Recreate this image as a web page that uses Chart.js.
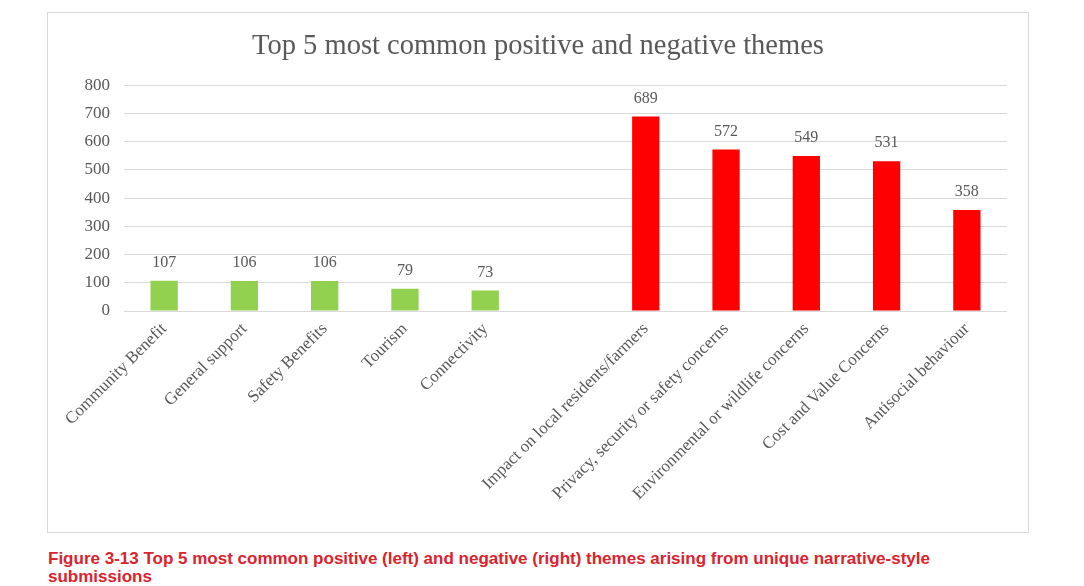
<!DOCTYPE html>
<html>
<head>
<meta charset="utf-8">
<script src="https://cdn.jsdelivr.net/npm/chart.js@4"></script>
<style>
  body { margin: 0; background: #fff; width: 1084px; height: 586px; position: relative; overflow: hidden; }
  #box { position: absolute; left: 47px; top: 12px; width: 980px; height: 519px; border: 1px solid #d9d9d9; }
  #caption { position: absolute; left: 48px; top: 550px; width: 960px; font: bold 17px "Liberation Sans", Arial, sans-serif; line-height: 18px; color: #d9232e; }
</style>
</head>
<body>
<div id="box"><canvas id="myChart" width="980" height="519"></canvas></div>
<div id="caption">Figure 3-13 Top 5 most common positive (left) and negative (right) themes arising from unique narrative-style submissions</div>
<script>
// categories (blank slot separates positive from negative)
var themes = ["Community Benefit", "General support", "Safety Benefits", "Tourism", "Connectivity", "",
  "Impact on local residents/farmers", "Privacy, security or safety concerns",
  "Environmental or wildlife concerns", "Cost and Value Concerns", "Antisocial behaviour"];
var counts = [107, 106, 106, 79, 73, null, 689, 572, 549, 531, 358];
var barColors = ["#92d050", "#92d050", "#92d050", "#92d050", "#92d050", "#ffffff",
  "#ff0000", "#ff0000", "#ff0000", "#ff0000", "#ff0000"];

var serif = "'Liberation Serif', 'Times New Roman', serif";

// draw value above each bar
var valueLabels = {
  id: 'valueLabels',
  afterDatasetsDraw: function(chart) {
    var ctx = chart.ctx;
    var meta = chart.getDatasetMeta(0);
    ctx.save();
    ctx.font = "16px " + serif;
    ctx.fillStyle = "#595959";
    ctx.textAlign = "center";
    ctx.textBaseline = "middle";
    meta.data.forEach(function(bar, i) {
      if (counts[i] == null) return;
      ctx.fillText(counts[i], bar.x, bar.y - 18);
    });
    ctx.restore();
  }
};

var ctx = document.getElementById('myChart').getContext('2d');
var chart = new Chart(ctx, {
  type: 'bar',
  data: {
    labels: themes,
    datasets: [{
      data: counts,
      backgroundColor: barColors,
      categoryPercentage: 1,
      barPercentage: 0.34
    }]
  },
  options: {
    responsive: false,
    animation: false,
    layout: { padding: { left: 21, right: 21, top: 0, bottom: 0 } },
    plugins: {
      legend: { display: false },
      tooltip: { enabled: false },
      title: {
        display: true,
        text: "Top 5 most common positive and negative themes",
        color: "#595959",
        font: { family: serif, size: 28.5, weight: 'normal' },
        padding: { top: 16, bottom: 22 }
      }
    },
    scales: {
      x: {
        grid: { display: false, drawTicks: false },
        border: { display: false },
        ticks: {
          autoSkip: false,
          maxRotation: 45,
          minRotation: 45,
          padding: 8,
          color: "#595959",
          font: { family: serif, size: 17 }
        },
        afterFit: function(s) { s.height = 221; }
      },
      y: {
        min: 0,
        max: 800,
        grid: { color: "#d9d9d9", drawTicks: false },
        border: { display: false },
        ticks: {
          stepSize: 100,
          padding: 14,
          color: "#595959",
          font: { family: serif, size: 17 }
        },
        afterFit: function(s) { s.width = 55; }
      }
    }
  },
  plugins: [valueLabels]
});
</script>
</body>
</html>
